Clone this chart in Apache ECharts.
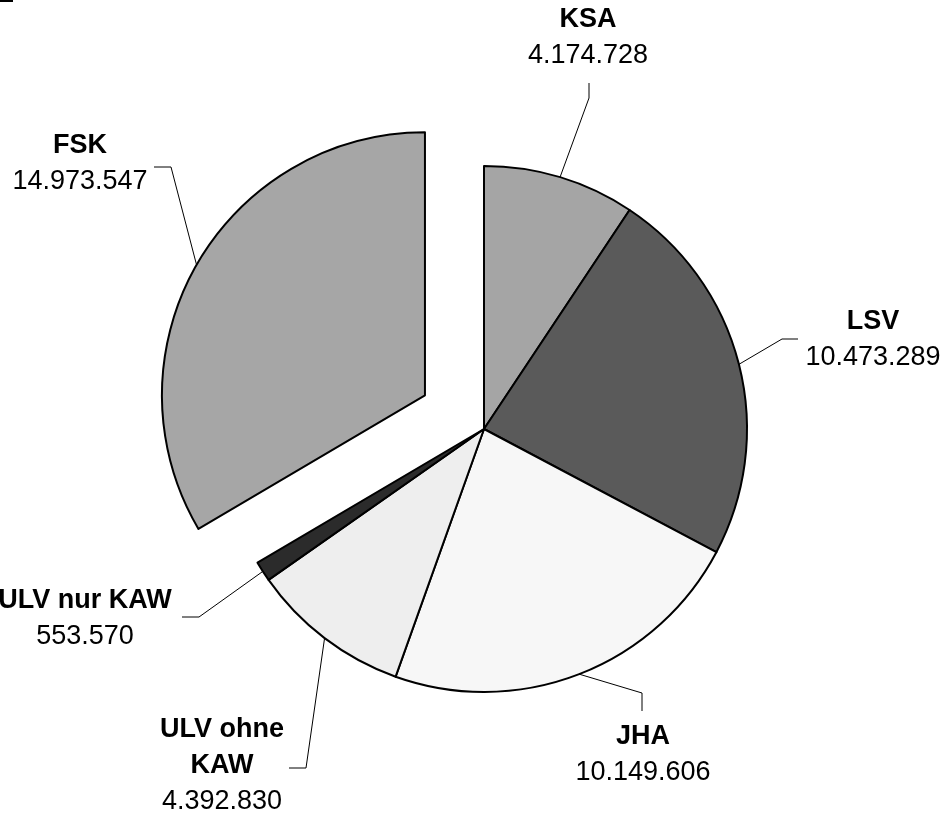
<!DOCTYPE html>
<html>
<head>
<meta charset="utf-8">
<script src="https://cdn.jsdelivr.net/npm/echarts@6/dist/echarts.min.js"></script>
<style>
  html, body { margin: 0; padding: 0; background: #fff; }
  #chart { width: 948px; height: 814px; }
</style>
</head>
<body>
<div id="chart"></div>
<script>
// Werte aus dem Bild
var categories = ["KSA", "LSV", "JHA", "ULV ohne KAW", "ULV nur KAW", "FSK"];
var values = [4174728, 10473289, 10149606, 4392830, 553570, 14973547];
var valueLabels = ["4.174.728", "10.473.289", "10.149.606", "4.392.830", "553.570", "14.973.547"];

var colors = ["#a5a5a5", "#5a5a5a", "#f7f7f7", "#eeeeee", "#2b2b2b", "#a6a6a6"];

var CENTER = [484, 429];
var OFFSET = 68; // herausgezogenes Segment (FSK)

// Lage der Beschriftungen (Mitte) und Knick-/Endpunkt der Führungslinien
// FSK (ausgewählt) behält die Standardlage, verschoben über padding
var labelPos = [
  { x: 588, y: 38, elbow: [589, 98], end: [589, 83] },
  { x: 873, y: 340, elbow: [782, 339], end: [798, 339] },
  { x: 643, y: 755, elbow: [642, 693], end: [642, 711] },
  { x: 222, y: 766, elbow: [306, 768], end: [289, 768] },
  { x: 85, y: 619, elbow: [199, 617], end: [182, 617] },
  { x: null, y: null, elbow: [171, 167], end: [154, 167] }
];

var chartDom = document.getElementById("chart");
var myChart = echarts.init(chartDom);
var option;

var data = [];
for (var i = 0; i < categories.length; i++) {
  var item = {
    name: categories[i],
    value: values[i],
    itemStyle: { color: colors[i] }
  };
  if (categories[i] === "FSK") {
    item.selected = true;
    item.label = { padding: [0, 0, 203, 0] };
    item.labelLine = { length: 0, length2: 44 };
  }
  data.push(item);
}

option = {
  animation: false,
  backgroundColor: "#fff",
  graphic: [
    { type: "rect", shape: { x: 0, y: 0, width: 13, height: 2 }, style: { fill: "#000" } }
  ],
  series: [
    {
      type: "pie",
      center: CENTER,
      radius: 263,
      startAngle: 90,
      clockwise: true,
      selectedMode: "single",
      selectedOffset: OFFSET,
      emphasis: { disabled: true },
      itemStyle: {
        borderColor: "#000",
        borderWidth: 2
      },
      label: {
        show: true,
        position: "outside",
        color: "#000",
        fontFamily: "Liberation Sans, Arial, sans-serif",
        formatter: function (p) {
          var name = p.name === "ULV ohne KAW" ? "{n|ULV ohne}\n{n|KAW}" : "{n|" + p.name + "}";
          return name + "\n{v|" + valueLabels[p.dataIndex] + "}";
        },
        rich: {
          n: { fontSize: 27, fontWeight: "bold", lineHeight: 36, color: "#000", align: "center",
               fontFamily: "Liberation Sans, Arial, sans-serif" },
          v: { fontSize: 27, lineHeight: 36, color: "#000", align: "center",
               fontFamily: "Liberation Sans, Arial, sans-serif" }
        }
      },
      labelLine: {
        show: true,
        lineStyle: { color: "#000", width: 1 }
      },
      labelLayout: function (params) {
        var p = labelPos[params.dataIndex];
        var start = params.labelLinePoints[0];
        if (p.x == null) {
          // Führungslinie des ausgewählten Segments wird mit verschoben
          var vx = start[0] - CENTER[0], vy = start[1] - CENTER[1];
          var len = Math.sqrt(vx * vx + vy * vy);
          var ox = vx / len * OFFSET, oy = vy / len * OFFSET;
          return {
            labelLinePoints: [start,
              [p.elbow[0] - ox, p.elbow[1] - oy],
              [p.end[0] - ox, p.end[1] - oy]]
          };
        }
        return {
          x: p.x,
          y: p.y,
          align: "center",
          verticalAlign: "middle",
          labelLinePoints: [start, p.elbow, p.end]
        };
      },
      data: data
    }
  ]
};

option && myChart.setOption(option);
</script>
</body>
</html>
